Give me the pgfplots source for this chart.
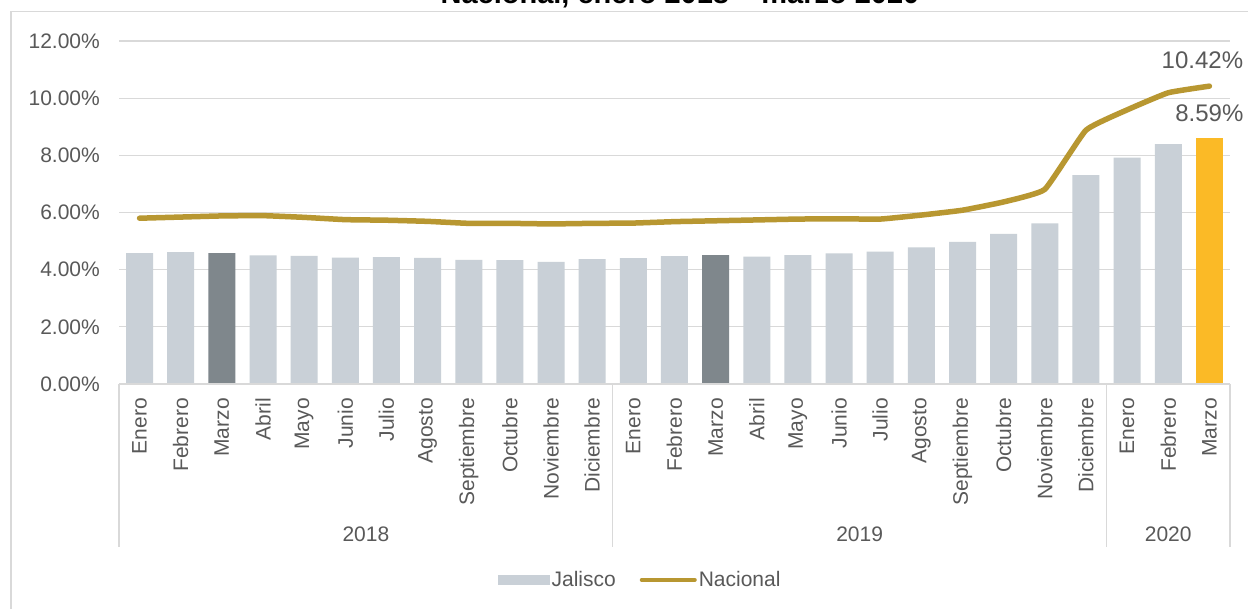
\documentclass[border=0pt]{standalone}
\usepackage{fontspec}
\setmainfont{Liberation Sans}
\usepackage{pgfplots}
\usepackage{pgfplotstable}
\pgfplotsset{compat=1.18}
\definecolor{barg}{HTML}{C9D0D7}
\definecolor{bard}{HTML}{7F878C}
\definecolor{bary}{HTML}{FBBA26}
\definecolor{linec}{HTML}{B89731}
\definecolor{gridc}{HTML}{D9D9D9}
\definecolor{txt}{HTML}{595959}
\newcommand{\fs}{\fontsize{21}{25}\selectfont}

\pgfplotstableread{
x y
0 4.58
1 4.61
3 4.50
4 4.48
5 4.42
6 4.44
7 4.41
8 4.34
9 4.33
10 4.27
11 4.37
12 4.40
13 4.47
15 4.46
16 4.51
17 4.57
18 4.63
19 4.78
20 4.97
21 5.25
22 5.62
23 7.31
24 7.92
25 8.39
}\jalisco
\pgfplotstableread{
x y
2 4.58
14 4.51
}\marzo
\pgfplotstableread{
x y
26 8.59
}\ultimo
\pgfplotstableread{
x y
0 5.80
1 5.84
2 5.88
3 5.89
4 5.83
5 5.75
6 5.73
7 5.69
8 5.62
9 5.62
10 5.60
11 5.62
12 5.63
13 5.68
14 5.71
15 5.74
16 5.77
17 5.78
18 5.77
19 5.91
20 6.08
21 6.37
22 6.81
23 8.88
24 9.59
25 10.19
26 10.42
}\nacional

\begin{document}
\begin{tikzpicture}[x=1pt,y=1pt]
\useasboundingbox (0,0) rectangle (1248,609);
\fill[white] (0,0) rectangle (1248,609);
\draw[gridc, line width=1.3pt] (11,-20) |- (1270,597.3);
\node[font=\bfseries\fontsize{29}{34}\selectfont, anchor=base, text=black] at (680,605) {Nacional, enero 2018 – marzo 2020};
\begin{axis}[
  at={(119pt,225pt)}, anchor=south west,
  scale only axis, width=1111pt, height=343pt,
  xmin=-0.5, xmax=26.5, ymin=0, ymax=12,
  clip=false,
  axis line style={draw=none},
  major tick length=0pt,
  ymajorgrids, grid style={gridc, line width=1.3pt},
  ytick={0,2,4,6,8,10,12},
  yticklabels={0.00\%,2.00\%,4.00\%,6.00\%,8.00\%,10.00\%,12.00\%},
  yticklabel style={anchor=east, inner sep=0pt, font=\fs, text=txt},
  yticklabel shift=19pt,
  xtick={0,...,26},
  xticklabels={Enero,Febrero,Marzo,Abril,Mayo,Junio,Julio,Agosto,Septiembre,Octubre,Noviembre,Diciembre,Enero,Febrero,Marzo,Abril,Mayo,Junio,Julio,Agosto,Septiembre,Octubre,Noviembre,Diciembre,Enero,Febrero,Marzo},
  xticklabel style={rotate=90, anchor=east, inner sep=0pt, font=\fs, text=txt},
  xticklabel shift=14pt,
  legend style={at={(0.469,-0.571)}, anchor=center, draw=none, fill=none,
    font=\fs, text=txt, inner sep=0pt,
    nodes={inner sep=2pt},
    /tikz/every even column/.append style={column sep=22pt}},
  legend columns=2,
  legend cell align=left,
]
\addplot[ybar, bar width=27pt, bar shift=0pt, fill=barg, draw=none,
  legend image code/.code={\fill[barg] (0pt,-5pt) rectangle (52pt,5pt);}] table[x=x,y=y] {\jalisco};
\addlegendentry{Jalisco}
\addplot[ybar, bar width=27pt, bar shift=0pt, fill=bard, draw=none, forget plot] table[x=x,y=y] {\marzo};
\addplot[ybar, bar width=27pt, bar shift=0pt, fill=bary, draw=none, forget plot] table[x=x,y=y] {\ultimo};
\addplot[linec, line width=5.5pt, smooth, tension=0.22, line cap=round, line join=round, mark=none,
  legend image code/.code={\draw[linec, line width=4pt, line cap=round] (2pt,0pt) -- (55pt,0pt);}] table[x=x,y=y] {\nacional};
\addlegendentry{Nacional}
\draw[gridc, line width=1.3pt] (axis cs:-0.5,0) -- (axis cs:26.5,0);
\draw[gridc, line width=1.3pt] (axis cs:-0.5,0) -- ++(0pt,-163pt);
\draw[gridc, line width=1.3pt] (axis cs:11.5,0) -- ++(0pt,-163pt);
\draw[gridc, line width=1.3pt] (axis cs:23.5,0) -- ++(0pt,-163pt);
\draw[gridc, line width=1.3pt] (axis cs:26.5,0) -- ++(0pt,-163pt);
\node[font=\fs, text=txt] at (axis cs:5.5,0) [yshift=-150pt] {2018};
\node[font=\fs, text=txt] at (axis cs:17.5,0) [yshift=-150pt] {2019};
\node[font=\fs, text=txt] at (axis cs:25,0) [yshift=-150pt] {2020};
\node[font=\fontsize{24}{28}\selectfont, text=txt] at (axis cs:26,10.42) [xshift=-7pt, yshift=26pt] {10.42\%};
\node[font=\fontsize{24}{28}\selectfont, text=txt] at (axis cs:26,8.59) [yshift=25pt] {8.59\%};
\end{axis}
\end{tikzpicture}
\end{document}
